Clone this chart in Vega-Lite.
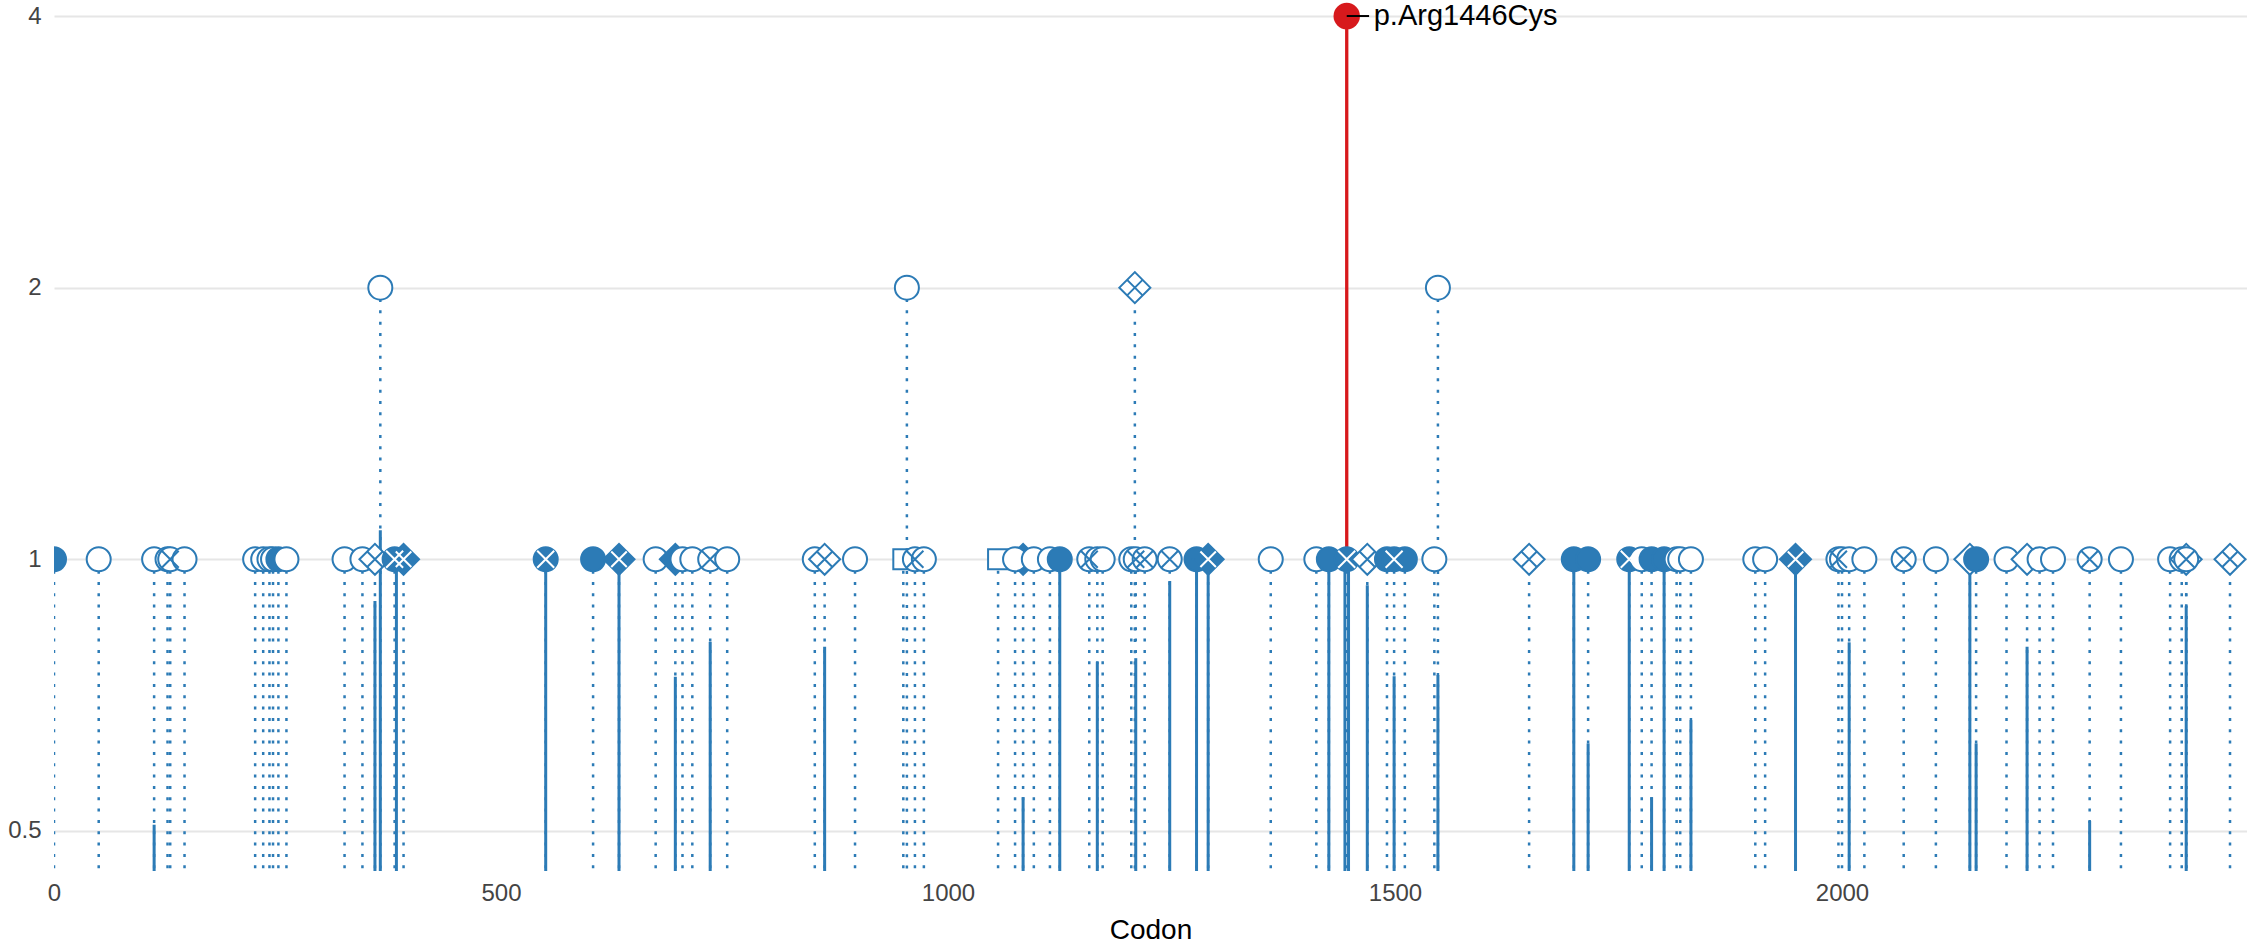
{
  "$schema": "https://vega.github.io/schema/vega-lite/v6.json",
  "width": 2193,
  "height": 871,
  "autosize": {"type": "none"},
  "padding": {"left": 54, "top": 0, "right": 0, "bottom": 80},
  "config": {"view": {"stroke": null}, "font": "Liberation Sans"},
  "datasets": {
    "pts": [
      {"c":0,"n":1,"s":"circle","f":"f","x":0},
      {"c":50,"n":1,"s":"circle","f":"o","x":0},
      {"c":112,"n":1,"s":"circle","f":"o","x":0},
      {"c":127,"n":1,"s":"circle","f":"o","x":0},
      {"c":130,"n":1,"s":"circle","f":"o","x":1},
      {"c":146,"n":1,"s":"circle","f":"o","x":0},
      {"c":225,"n":1,"s":"circle","f":"o","x":0},
      {"c":234,"n":1,"s":"circle","f":"o","x":0},
      {"c":241,"n":1,"s":"circle","f":"o","x":0},
      {"c":245,"n":1,"s":"circle","f":"o","x":0},
      {"c":251,"n":1,"s":"circle","f":"f","x":0},
      {"c":260,"n":1,"s":"circle","f":"o","x":0},
      {"c":325,"n":1,"s":"circle","f":"o","x":0},
      {"c":345,"n":1,"s":"circle","f":"o","x":0},
      {"c":359,"n":1,"s":"diamond","f":"o","x":1},
      {"c":365,"n":2,"s":"circle","f":"o","x":0},
      {"c":381,"n":1,"s":"circle","f":"f","x":1},
      {"c":391,"n":1,"s":"diamond","f":"f","x":1},
      {"c":550,"n":1,"s":"circle","f":"f","x":1},
      {"c":603,"n":1,"s":"circle","f":"f","x":0},
      {"c":632,"n":1,"s":"diamond","f":"f","x":1},
      {"c":673,"n":1,"s":"circle","f":"o","x":0},
      {"c":695,"n":1,"s":"diamond","f":"f","x":0},
      {"c":703,"n":1,"s":"circle","f":"o","x":0},
      {"c":714,"n":1,"s":"circle","f":"o","x":0},
      {"c":734,"n":1,"s":"circle","f":"o","x":1},
      {"c":753,"n":1,"s":"circle","f":"o","x":0},
      {"c":851,"n":1,"s":"circle","f":"o","x":0},
      {"c":862,"n":1,"s":"diamond","f":"o","x":1},
      {"c":896,"n":1,"s":"circle","f":"o","x":0},
      {"c":950,"n":1,"s":"square","f":"o","x":0},
      {"c":954,"n":2,"s":"circle","f":"o","x":0},
      {"c":963,"n":1,"s":"circle","f":"o","x":1},
      {"c":973,"n":1,"s":"circle","f":"o","x":0},
      {"c":1056,"n":1,"s":"square","f":"o","x":0},
      {"c":1084,"n":1,"s":"diamond","f":"f","x":0},
      {"c":1075,"n":1,"s":"circle","f":"o","x":0},
      {"c":1096,"n":1,"s":"circle","f":"o","x":0},
      {"c":1114,"n":1,"s":"circle","f":"o","x":0},
      {"c":1125,"n":1,"s":"circle","f":"f","x":0},
      {"c":1158,"n":1,"s":"circle","f":"o","x":1},
      {"c":1167,"n":1,"s":"circle","f":"o","x":0},
      {"c":1173,"n":1,"s":"circle","f":"o","x":0},
      {"c":1205,"n":1,"s":"circle","f":"o","x":0},
      {"c":1209,"n":2,"s":"diamond","f":"o","x":1},
      {"c":1210,"n":1,"s":"circle","f":"o","x":1},
      {"c":1220,"n":1,"s":"circle","f":"o","x":1},
      {"c":1248,"n":1,"s":"circle","f":"o","x":1},
      {"c":1278,"n":1,"s":"circle","f":"f","x":0},
      {"c":1291,"n":1,"s":"diamond","f":"f","x":1},
      {"c":1361,"n":1,"s":"circle","f":"o","x":0},
      {"c":1412,"n":1,"s":"circle","f":"o","x":0},
      {"c":1426,"n":1,"s":"circle","f":"f","x":0},
      {"c":1446,"n":1,"s":"circle","f":"f","x":1},
      {"c":1469,"n":1,"s":"diamond","f":"o","x":1},
      {"c":1491,"n":1,"s":"circle","f":"f","x":0},
      {"c":1499,"n":1,"s":"circle","f":"f","x":1},
      {"c":1511,"n":1,"s":"circle","f":"f","x":0},
      {"c":1544,"n":1,"s":"circle","f":"o","x":0},
      {"c":1548,"n":2,"s":"circle","f":"o","x":0},
      {"c":1650,"n":1,"s":"diamond","f":"o","x":1},
      {"c":1700,"n":1,"s":"circle","f":"f","x":0},
      {"c":1716,"n":1,"s":"circle","f":"f","x":0},
      {"c":1762,"n":1,"s":"circle","f":"f","x":1},
      {"c":1776,"n":1,"s":"circle","f":"o","x":0},
      {"c":1787,"n":1,"s":"circle","f":"f","x":0},
      {"c":1801,"n":1,"s":"circle","f":"f","x":0},
      {"c":1815,"n":1,"s":"circle","f":"o","x":0},
      {"c":1819,"n":1,"s":"circle","f":"o","x":0},
      {"c":1831,"n":1,"s":"circle","f":"o","x":0},
      {"c":1903,"n":1,"s":"circle","f":"o","x":0},
      {"c":1914,"n":1,"s":"circle","f":"o","x":0},
      {"c":1948,"n":1,"s":"diamond","f":"f","x":1},
      {"c":1996,"n":1,"s":"circle","f":"o","x":1},
      {"c":2000,"n":1,"s":"circle","f":"o","x":0},
      {"c":2008,"n":1,"s":"circle","f":"o","x":0},
      {"c":2025,"n":1,"s":"circle","f":"o","x":0},
      {"c":2069,"n":1,"s":"circle","f":"o","x":1},
      {"c":2105,"n":1,"s":"circle","f":"o","x":0},
      {"c":2143,"n":1,"s":"diamond","f":"o","x":0},
      {"c":2150,"n":1,"s":"circle","f":"f","x":0},
      {"c":2184,"n":1,"s":"circle","f":"o","x":0},
      {"c":2207,"n":1,"s":"diamond","f":"o","x":0},
      {"c":2221,"n":1,"s":"circle","f":"o","x":0},
      {"c":2236,"n":1,"s":"circle","f":"o","x":0},
      {"c":2277,"n":1,"s":"circle","f":"o","x":1},
      {"c":2312,"n":1,"s":"circle","f":"o","x":0},
      {"c":2367,"n":1,"s":"circle","f":"o","x":0},
      {"c":2380,"n":1,"s":"circle","f":"o","x":0},
      {"c":2385,"n":1,"s":"diamond","f":"o","x":0},
      {"c":2385,"n":1,"s":"circle","f":"o","x":1},
      {"c":2434,"n":1,"s":"diamond","f":"o","x":1}
    ],
    "solid": [
      {"c":112,"t":0.508},{"c":359,"t":0.899},{"c":365,"t":1.077},{"c":383,"t":1},
      {"c":550,"t":1},{"c":632,"t":1},{"c":695,"t":0.741},{"c":734,"t":0.81},
      {"c":862,"t":0.8},{"c":1084,"t":0.545},{"c":1125,"t":1},{"c":1167,"t":0.77},
      {"c":1210,"t":0.777},{"c":1248,"t":0.946},{"c":1278,"t":1},{"c":1291,"t":1},
      {"c":1426,"t":1},{"c":1444,"t":1},{"c":1448,"t":1},{"c":1469,"t":0.936},
      {"c":1499,"t":0.742},{"c":1548,"t":0.744},{"c":1700,"t":1},{"c":1716,"t":0.625},
      {"c":1762,"t":1},{"c":1787,"t":0.545},{"c":1801,"t":1},{"c":1831,"t":0.663},
      {"c":1948,"t":1},{"c":2008,"t":0.809},{"c":2143,"t":1},{"c":2150,"t":0.625},
      {"c":2207,"t":0.8},{"c":2277,"t":0.513},{"c":2385,"t":0.887}
    ],
    "hit": [{"c":1446,"n":4,"c2":1471,"label":"p.Arg1446Cys"}]
  },
  "encoding": {
    "x": {"field":"c","type":"quantitative",
      "scale":{"domain":[0,2453],"nice":false,"zero":false},
      "axis":{"values":[0,500,1000,1500,2000],"format":"d","grid":false,"ticks":false,"domain":false,"labelFlush":false,
        "labelFontSize":24,"labelColor":"#444444","labelPadding":10,
        "title":"Codon","titleFontSize":28,"titleFontWeight":"normal","titleColor":"#000000","titlePadding":11}}
  },
  "layer": [
    {
      "data": {"name":"hit"},
      "mark": {"type":"rule","color":"#d7191c","strokeWidth":3.3},
      "encoding": {
        "y": {"field":"n","type":"quantitative",
          "scale":{"type":"log","domain":[0.4514,4.167],"nice":false},
          "axis":{"values":[0.5,1,2,4],"format":"~g","grid":true,"gridColor":"#e6e6e6","gridWidth":2,
            "ticks":false,"domain":false,"labelFontSize":24,"labelColor":"#444444","labelPadding":13,"labelAlign":"right","title":null}},
        "y2": {"datum":1}
      }
    },
    {
      "data": {"name":"pts"},
      "mark": {"type":"rule","color":"#2c7bb6","strokeWidth":2.5,"strokeDash":[3,8.33],"clip":true},
      "encoding": {
        "y": {"field":"n","type":"quantitative"},
        "y2": {"datum":0.4514}
      }
    },
    {
      "data": {"name":"solid"},
      "mark": {"type":"rule","color":"#2c7bb6","strokeWidth":3,"clip":true},
      "encoding": {
        "y": {"field":"t","type":"quantitative"},
        "y2": {"datum":0.4514}
      }
    },
    {
      "data": {"name":"pts"},
      "mark": {"type":"point","stroke":"#2c7bb6","strokeWidth":2,"opacity":1,"fillOpacity":1,"clip":true},
      "encoding": {
        "y": {"field":"n","type":"quantitative"},
        "shape": {"field":"s","type":"nominal","scale":{"domain":["circle","diamond","square"],"range":["circle","diamond","square"]},"legend":null},
        "size": {"field":"s","type":"nominal","scale":{"type":"ordinal","domain":["circle","diamond","square"],"range":[576,961,400]},"legend":null},
        "fill": {"field":"f","type":"nominal","scale":{"domain":["o","f"],"range":["#ffffff","#2c7bb6"]},"legend":null}
      }
    },
    {
      "data": {"name":"pts"},
      "transform": [{"filter":"datum.x == 1"}],
      "mark": {"type":"point","filled":false,"strokeWidth":2,"opacity":1,"clip":true},
      "encoding": {
        "y": {"field":"n","type":"quantitative"},
        "shape": {"field":"s","type":"nominal","scale":{"domain":["circle","diamond"],"range":["M-0.707,-0.707L0.707,0.707M-0.707,0.707L0.707,-0.707","M-0.5,-0.5L0.5,0.5M-0.5,0.5L0.5,-0.5"]},"legend":null},
        "size": {"field":"s","type":"nominal","scale":{"type":"ordinal","domain":["circle","diamond"],"range":[576,961]},"legend":null},
        "stroke": {"field":"f","type":"nominal","scale":{"domain":["o","f"],"range":["#2c7bb6","#ffffff"]},"legend":null}
      }
    },
    {
      "data": {"name":"hit"},
      "mark": {"type":"point","filled":true,"color":"#d7191c","size":700,"opacity":1,"shape":"circle"},
      "encoding": {"y": {"field":"n","type":"quantitative"}}
    },
    {
      "data": {"name":"hit"},
      "mark": {"type":"rule","color":"#000000","strokeWidth":2},
      "encoding": {"x2": {"field":"c2"}, "y": {"field":"n","type":"quantitative"}}
    },
    {
      "data": {"name":"hit"},
      "mark": {"type":"text","align":"left","baseline":"middle","dx":27,"fontSize":29,"color":"#000000"},
      "encoding": {"y": {"field":"n","type":"quantitative"}, "text": {"field":"label"}}
    }
  ],
  "resolve": {"scale": {"shape":"independent","size":"independent","fill":"independent","stroke":"independent"}}
}
